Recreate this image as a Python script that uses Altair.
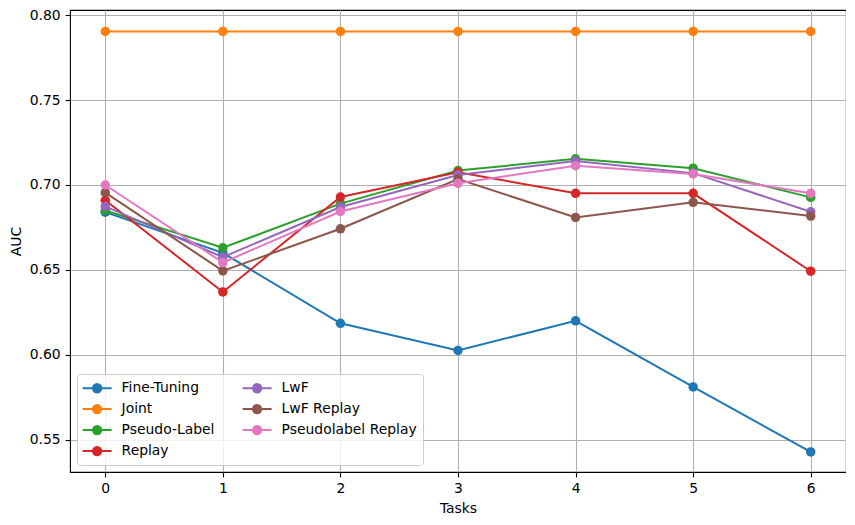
import altair as alt
import pandas as pd

tasks = [0, 1, 2, 3, 4, 5, 6]
methods = ["Fine-Tuning", "Joint", "Pseudo-Label", "Replay", "LwF", "LwF Replay", "Pseudolabel Replay"]
colors = ["#1f77b4", "#ff7f0e", "#2ca02c", "#d62728", "#9467bd", "#8c564b", "#e377c2"]

fine_tuning = [0.684, 0.660, 0.6185, 0.6025, 0.620, 0.581, 0.5427]
joint = [0.7905, 0.7905, 0.7905, 0.7905, 0.7905, 0.7905, 0.7905]
pseudo_label = [0.685, 0.663, 0.689, 0.7085, 0.7154, 0.7099, 0.6927]
replay = [0.691, 0.637, 0.6929, 0.7075, 0.6951, 0.6951, 0.6492]
lwf = [0.6874, 0.6575, 0.687, 0.7059, 0.7142, 0.707, 0.6842]
lwf_replay = [0.6955, 0.6494, 0.6742, 0.7035, 0.6809, 0.6898, 0.6817]
pseudolabel_replay = [0.700, 0.6543, 0.6844, 0.701, 0.7114, 0.7065, 0.6951]

series = [fine_tuning, joint, pseudo_label, replay, lwf, lwf_replay, pseudolabel_replay]

rows = []
for m, vals in zip(methods, series):
    for t, v in zip(tasks, vals):
        rows.append({"Tasks": t, "AUC": v, "Method": m})
df = pd.DataFrame(rows)

# line with a filled-looking marker: concentric stroked rings
def ring(rr):
    return f"M{rr},0A{rr},{rr},0,1,1,-{rr},0A{rr},{rr},0,1,1,{rr},0"

sym = "M-2,0L2,0" + ring(0.58) + ring(0.42) + ring(0.26) + ring(0.1)

color_enc = alt.Color(
    "Method:N",
    scale=alt.Scale(domain=methods, range=colors),
    legend=alt.Legend(
        title=None,
        orient="bottom-left",
        offset=7,
        columns=2,
        columnPadding=24,
        rowPadding=4,
        symbolType=sym,
        symbolSize=210,
        symbolOffset=6,
        symbolStrokeWidth=2,
        labelOffset=16,
        labelFontSize=13.9,
        labelFont="DejaVu Sans",
        labelColor="#000000",
        padding=5.6,
        strokeColor="#cccccc",
        fillColor="rgba(255,255,255,0.8)",
        cornerRadius=3,
    ),
)

x_enc = alt.X(
    "Tasks:Q",
    scale=alt.Scale(domain=[-0.3, 6.3], nice=False, zero=False),
    axis=alt.Axis(values=tasks, format="d", title="Tasks"),
)
y_enc = alt.Y(
    "AUC:Q",
    scale=alt.Scale(domain=[0.5309, 0.8031], nice=False, zero=False),
    axis=alt.Axis(values=[0.55, 0.60, 0.65, 0.70, 0.75, 0.80], format=".2f", title="AUC"),
)

base = alt.Chart(df)
lines = base.mark_line(strokeWidth=2).encode(x=x_enc, y=y_enc, color=color_enc, detail="Method:N", order="Tasks:Q")
points = base.mark_point(filled=True, size=90, opacity=1, shape="circle").encode(x=x_enc, y=y_enc, color=color_enc)

chart = alt.layer(lines, points).properties(
    width=776,
    height=462,
    padding={"left": 62, "top": 2, "right": 0, "bottom": 50},
    autosize=alt.AutoSizeParams(type="none"),
).configure_view(
    stroke="#000000", strokeWidth=1.1
).configure_axis(
    domain=False,
    grid=True,
    gridColor="#b0b0b0",
    gridWidth=1.1,
    tickColor="#000000",
    tickWidth=1.1,
    tickSize=4.9,
    labelPadding=4.9,
    labelFont="DejaVu Sans",
    labelFontSize=13.9,
    labelColor="#000000",
    titleFont="DejaVu Sans",
    titleFontSize=13.9,
    titleFontWeight="normal",
    titleColor="#000000",
    titlePadding=5.6,
    labelFlush=False,
    labelOverlap=False,
)

chart.save("out.html", embed_options={"renderer": "svg", "actions": False})
